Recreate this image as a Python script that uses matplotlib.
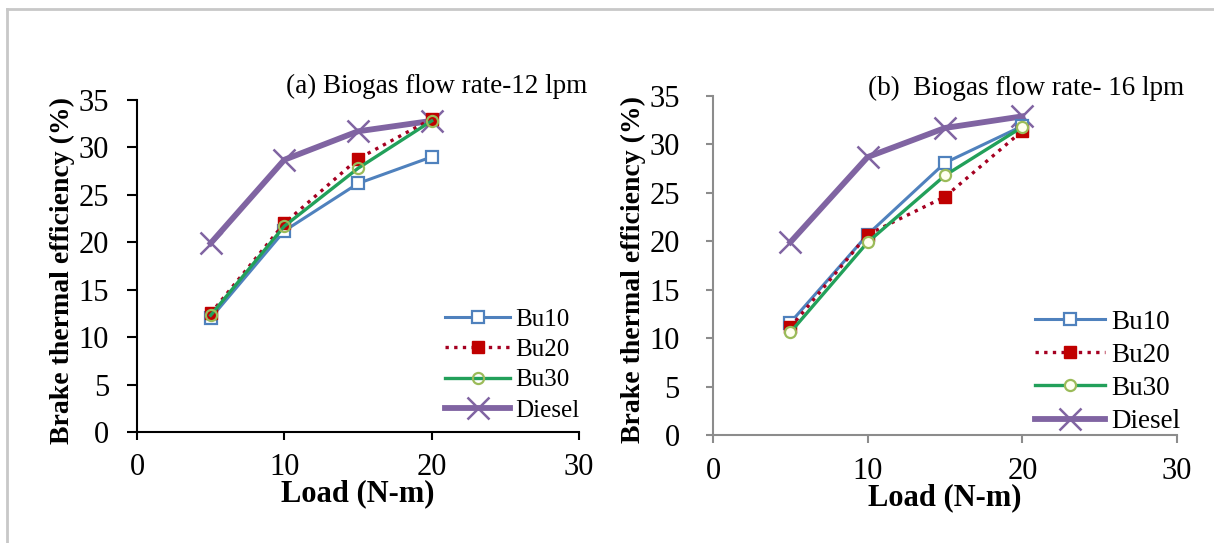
import numpy as np
import matplotlib
matplotlib.use("Agg")
from matplotlib import pyplot as plt
from matplotlib.lines import Line2D

plt.rcParams['font.family'] = ['Liberation Serif', 'DejaVu Serif']

# Load (N-m)
load = [5, 10, 15, 20]

# (a) biogas flow rate 12 lpm
bu10_a = [12.0, 21.2, 26.2, 29.0]
bu20_a = [12.5, 22.0, 28.8, 33.0]
bu30_a = [12.3, 21.7, 27.8, 32.8]
diesel_a = [19.9, 28.7, 31.7, 32.8]

# (b) biogas flow rate 16 lpm
bu10_b = [11.6, 20.7, 28.1, 31.9]
bu20_b = [11.1, 20.7, 24.6, 31.4]
bu30_b = [10.6, 19.9, 26.8, 31.8]
diesel_b = [19.9, 28.7, 31.7, 32.9]

series_names = ['Bu10', 'Bu20', 'Bu30', 'Diesel']
titles = ['(a) Biogas flow rate-12 lpm', '(b)  Biogas flow rate- 16 lpm']

W, H = 1214, 543
fig = plt.figure(figsize=(W / 100, H / 100), dpi=100)

# light grey frame at top / left
fig.add_artist(Line2D([7 / W, 7 / W], [0, 1 - 9 / H], color='#c8c8c8', lw=2))
fig.add_artist(Line2D([7 / W, 1], [1 - 9 / H, 1 - 9 / H], color='#c8c8c8', lw=2))


def draw_panel(rect, data, title, opts):
  ax = fig.add_axes(rect)
  bu10, bu20, bu30, diesel = data
  ax.plot(load, bu10, color='#4F81BD', lw=2.2, marker='s', ms=8,
          mfc='white', mec='#4F81BD', mew=1.6, label=series_names[0], zorder=3)
  ax.plot(load, bu20, color='#A50021', lw=2.4, ls=(0, (1, 1.6)), marker='s', ms=9,
          mfc='#C00000', mec='#C00000', label=series_names[1], zorder=4)
  ax.plot(load, bu30, color='#22A05A', lw=2.4, marker='o', ms=8,
          mfc=opts['bu30_face'], mec='#9BBB59', mew=1.6, label=series_names[2], zorder=5)
  ax.plot(load, diesel, color='#8064A2', lw=4.2, marker='x', ms=16,
          mew=1.8, label=series_names[3], zorder=2)

  ax.set_xlim(0, 30)
  ax.set_ylim(0, 35)
  ax.set_xticks([0, 10, 20, 30])
  ax.set_yticks(range(0, 36, 5))
  for s in ['top', 'right']:
    ax.spines[s].set_visible(False)
  for s in ['left', 'bottom']:
    ax.spines[s].set_color(opts['axis_color'])
    ax.spines[s].set_linewidth(1.5)
  ax.tick_params(direction='out', width=1.5, color=opts['axis_color'], labelsize=22)
  ax.tick_params(axis='y', length=opts['ytick_len'], pad=opts['ypad'])
  ax.tick_params(axis='x', length=6, pad=opts['xpad'])
  ax.set_xlabel('Load (N-m)', fontsize=22, fontweight='bold', labelpad=-2)
  ax.set_ylabel('Brake thermal efficiency (%)', fontsize=20, fontweight='bold')
  ax.yaxis.set_label_coords(opts['ylabel_x'], 0.487)
  fig.text(opts['title_xy'][0] / W, 1 - opts['title_xy'][1] / H, title,
           fontsize=19.5, ha='right', va='baseline')
  ax.legend(loc='lower left', bbox_to_anchor=opts['leg_anchor'],
            bbox_transform=fig.transFigure, frameon=False, fontsize=opts['leg_fs'],
            handlelength=2.6, handletextpad=0.2, labelspacing=opts['leg_sp'],
            borderpad=0, borderaxespad=0)
  return ax


draw_panel([137 / W, 111 / H, 442 / W, 332 / H],
           [bu10_a, bu20_a, bu30_a, diesel_a], titles[0],
           dict(axis_color='black', ytick_len=7, ypad=13, xpad=9,
                ylabel_x=-0.14, title_xy=(587, 93),
                leg_anchor=(445 / W, 1 - 422 / H), leg_fs=18, leg_sp=0.32,
                bu30_face='none'))
draw_panel([713 / W, 108 / H, 464 / W, 339 / H],
           [bu10_b, bu20_b, bu30_b, diesel_b], titles[1],
           dict(axis_color='#8c8c8c', ytick_len=5, ypad=19, xpad=10,
                ylabel_x=-0.144, title_xy=(1184, 95),
                leg_anchor=(1035 / W, 1 - 434 / H), leg_fs=19.5, leg_sp=0.30,
                bu30_face='#FFFFF0'))

fig.savefig('out.png', dpi=100)
